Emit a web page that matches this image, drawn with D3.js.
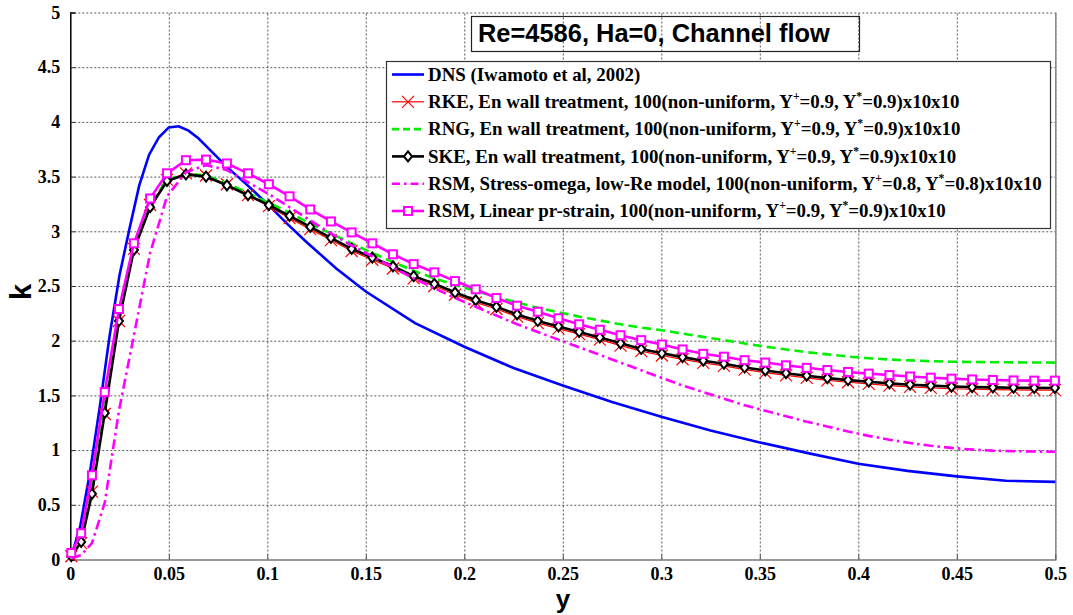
<!DOCTYPE html>
<html><head><meta charset="utf-8">
<script src="https://cdn.jsdelivr.net/npm/d3@7"></script>
<style>body{margin:0;background:#fff}svg{display:block}</style>
</head><body>
<svg id="c" width="1073" height="615"></svg>
<script>
// ---------- data ----------
const xTicks = [0,0.05,0.1,0.15,0.2,0.25,0.3,0.35,0.4,0.45,0.5];
const xTickLabels = ["0","0.05","0.1","0.15","0.2","0.25","0.3","0.35","0.4","0.45","0.5"];
const yTicks = [0,0.5,1,1.5,2,2.5,3,3.5,4,4.5,5];
const yTickLabels = ["0","0.5","1","1.5","2","2.5","3","3.5","4","4.5","5"];

// DNS (Iwamoto et al, 2002)
const dnsY = [0,0.005,0.01,0.015,0.02,0.025,0.03,0.035,0.04,0.045,0.05,0.055,0.06,0.065,0.07,0.08,0.09,0.1,0.11,0.12,0.135,0.15,0.175,0.2,0.225,0.25,0.275,0.3,0.325,0.35,0.375,0.4,0.425,0.45,0.475,0.5];
const dnsK = [0,0.3,0.8,1.4,2.05,2.6,3.02,3.42,3.7,3.86,3.95,3.96,3.92,3.85,3.76,3.58,3.42,3.25,3.07,2.9,2.66,2.45,2.16,1.945,1.75,1.59,1.44,1.305,1.18,1.07,0.97,0.875,0.81,0.76,0.72,0.71];

// simulation mesh (cell centres, non-uniform)
const meshY = [0.0005,0.0055,0.011,0.0175,0.0247,0.0323,0.0405,0.0491,0.0587,0.0689,0.0795,0.0902,0.1008,
  0.1113,0.1218,0.1323,0.1428,0.1533,0.1638,0.1743,0.1848,0.1953,0.2058,0.2163,0.2268,0.2373,0.2478,0.2583,
  0.2688,0.2793,0.2898,0.3003,0.3108,0.3213,0.3318,0.3423,0.3528,0.3633,0.3738,0.3843,0.3948,0.4053,0.4158,
  0.4263,0.4368,0.4473,0.4578,0.4683,0.4788,0.4893,0.4998];

const rkeK = [0.03,0.15,0.62,1.33,2.18,2.84,3.24,3.47,3.53,3.51,3.43,3.33,3.23,
  3.12,3.02,2.92,2.82,2.74,2.66,2.57,2.5,2.42,2.35,2.29,2.22,2.16,2.11,2.06,
  2.01,1.955,1.905,1.865,1.83,1.797,1.77,1.735,1.708,1.683,1.66,1.638,1.62,1.605,1.59,
  1.578,1.569,1.561,1.556,1.553,1.55,1.549,1.548];

const rngK = [0.04,0.18,0.66,1.42,2.22,2.86,3.25,3.47,3.53,3.51,3.44,3.35,3.26,
  3.17,3.07,2.98,2.89,2.8,2.72,2.64,2.57,2.51,2.455,2.4,2.35,2.3,2.26,2.22,
  2.185,2.15,2.12,2.095,2.065,2.035,2.005,1.975,1.945,1.92,1.895,1.875,1.855,1.84,1.828,
  1.82,1.813,1.808,1.805,1.803,1.802,1.801,1.8];

const skeK = [0.03,0.16,0.6,1.34,2.18,2.83,3.22,3.46,3.52,3.5,3.42,3.33,3.24,
  3.14,3.04,2.94,2.84,2.76,2.68,2.59,2.52,2.44,2.37,2.31,2.24,2.18,2.13,2.08,
  2.03,1.976,1.924,1.885,1.85,1.817,1.79,1.755,1.728,1.703,1.68,1.658,1.64,1.625,1.61,
  1.598,1.589,1.581,1.576,1.573,1.57,1.569,1.568];

const rsmOmegaK = [0.01,0.04,0.15,0.52,1.36,2.05,2.8,3.32,3.54,3.605,3.56,3.45,3.34,
  3.22,3.1,2.98,2.87,2.77,2.67,2.57,2.48,2.39,2.31,2.23,2.15,2.08,2.01,1.94,
  1.87,1.8,1.73,1.66,1.59,1.53,1.47,1.41,1.36,1.31,1.26,1.215,1.17,1.13,1.095,
  1.065,1.04,1.02,1.005,0.995,0.99,0.987,0.985];

const rsmLinearK = [0.06,0.24,0.77,1.53,2.29,2.89,3.3,3.53,3.65,3.655,3.62,3.53,3.43,
  3.32,3.2,3.09,2.99,2.89,2.79,2.7,2.625,2.545,2.47,2.39,2.32,2.265,2.205,2.15,
  2.1,2.05,2.005,1.965,1.92,1.88,1.854,1.822,1.8,1.775,1.752,1.732,1.714,1.699,1.686,
  1.673,1.662,1.653,1.646,1.641,1.637,1.635,1.635];

const legendLabels = [
  "DNS (Iwamoto et al, 2002)",
  "RKE, En wall treatment, 100(non-uniform, Y^+=0.9, Y^*=0.9)x10x10",
  "RNG, En wall treatment, 100(non-uniform, Y^+=0.9, Y^*=0.9)x10x10",
  "SKE, En wall treatment, 100(non-uniform, Y^+=0.9, Y^*=0.9)x10x10",
  "RSM, Stress-omega, low-Re model, 100(non-uniform, Y^+=0.8, Y^*=0.8)x10x10",
  "RSM, Linear pr-strain, 100(non-uniform, Y^+=0.9, Y^*=0.9)x10x10"
];
const titleText = "Re=4586, Ha=0, Channel flow";

// ---------- chart ----------
const svg = d3.select("#c");
const L = 70.3, R = 1055.3, T = 12.5, B = 559.5;
const x = d3.scaleLinear().domain([0,0.5]).range([L,R]);
const y = d3.scaleLinear().domain([0,5]).range([B,T]);
const serif = "Liberation Serif, Times New Roman, Tinos, DejaVu Serif, Noto Serif, serif";
const sans = "Liberation Sans, Arial, sans-serif";

// grid
const gridX = svg.append("g").attr("transform",`translate(0,${B})`)
  .call(d3.axisBottom(x).tickValues(xTicks.slice(1)).tickSize(-(B-T)).tickFormat(""));
gridX.select(".domain").remove();
gridX.selectAll("line").attr("stroke","#555").attr("stroke-dasharray","2,2").attr("stroke-width",1);
const gridY = svg.append("g").attr("transform",`translate(${L},0)`)
  .call(d3.axisLeft(y).tickValues(yTicks.slice(1)).tickSize(-(R-L)).tickFormat(""));
gridY.select(".domain").remove();
gridY.selectAll("line").attr("stroke","#555").attr("stroke-dasharray","2,2").attr("stroke-width",1);

// axes frame
svg.append("line").attr("x1",R+0.5).attr("x2",R+0.5).attr("y1",T).attr("y2",B).attr("stroke","#888").attr("stroke-width",1.5);
svg.append("line").attr("x1",L).attr("x2",R+1).attr("y1",B+0.5).attr("y2",B+0.5).attr("stroke","#777").attr("stroke-width",1.5);

const xAxis = svg.append("g").attr("transform",`translate(0,${B})`)
  .call(d3.axisBottom(x).tickValues(xTicks).tickSize(-5).tickPadding(8).tickFormat((d,i)=>xTickLabels[i]));
xAxis.attr("font-family",null);
xAxis.select(".domain").remove();
xAxis.selectAll("line").attr("stroke","#555");
xAxis.selectAll("text").attr("font-family",serif).attr("font-weight","bold").attr("font-size",18).attr("fill","#000");

const yAxis = svg.append("g").attr("transform",`translate(${L},0)`)
  .call(d3.axisLeft(y).tickValues(yTicks).tickSize(-5).tickPadding(10).tickFormat((d,i)=>yTickLabels[i]));
yAxis.attr("font-family",null);
yAxis.select(".domain").attr("stroke","#000").attr("stroke-width",1.5);
yAxis.selectAll("line").attr("stroke","#333");
yAxis.selectAll("text").attr("font-family",serif).attr("font-weight","bold").attr("font-size",18).attr("fill","#000");

// axis labels
svg.append("text").attr("x",563).attr("y",608).attr("text-anchor","middle")
  .attr("font-family",sans).attr("font-weight","bold").attr("font-size",26).text("y");
svg.append("text").attr("transform","translate(31,292) rotate(-90)").attr("text-anchor","middle")
  .attr("font-family",sans).attr("font-weight","bold").attr("font-size",29).text("k");

// series
const line = (xs,ks) => d3.line().x((d,i)=>x(xs[i])).y(d=>y(d))(ks);
const plot = svg.append("g");

plot.append("path").attr("d",line(dnsY,dnsK)).attr("fill","none").attr("stroke","#0000ff").attr("stroke-width",2.6);

plot.append("path").attr("d",line(meshY,rkeK)).attr("fill","none").attr("stroke","#ff0000").attr("stroke-width",1.2);
plot.append("g").selectAll("path").data(rkeK).join("path")
  .attr("d","M-6,-6L6,6M-6,6L6,-6").attr("transform",(d,i)=>`translate(${x(meshY[i])},${y(d)})`)
  .attr("stroke","#ff0000").attr("stroke-width",1.2).attr("fill","none");

plot.append("path").attr("d",line(meshY,rngK)).attr("fill","none").attr("stroke","#00ee00").attr("stroke-width",2.6).attr("stroke-dasharray","9,5");

plot.append("path").attr("d",line(meshY,skeK)).attr("fill","none").attr("stroke","#000").attr("stroke-width",2.6);
plot.append("g").selectAll("path").data(skeK).join("path")
  .attr("d","M0,-5L4,0L0,5L-4,0Z").attr("transform",(d,i)=>`translate(${x(meshY[i])},${y(d)})`)
  .attr("stroke","#000").attr("stroke-width",2).attr("fill","#fff");

plot.append("path").attr("d",line(meshY,rsmOmegaK)).attr("fill","none").attr("stroke","#ff00ff").attr("stroke-width",2.6).attr("stroke-dasharray","10,4,2.5,4");

plot.append("path").attr("d",line(meshY,rsmLinearK)).attr("fill","none").attr("stroke","#ff00ff").attr("stroke-width",2.6);
plot.append("g").selectAll("rect").data(rsmLinearK).join("rect")
  .attr("x",(d,i)=>x(meshY[i])-4).attr("y",d=>y(d)-4).attr("width",8).attr("height",8)
  .attr("stroke","#ff00ff").attr("stroke-width",2).attr("fill","#fff");

// title box
svg.append("rect").attr("x",471.5).attr("y",16.5).attr("width",388).attr("height",35)
  .attr("fill","none").attr("stroke","#222").attr("stroke-width",1.2);
const tt = svg.append("text").attr("x",478).attr("y",42).attr("font-family",sans).attr("font-weight","bold")
  .attr("font-size",25).attr("fill","#000").text(titleText);
{ const w = tt.node().getComputedTextLength(); tt.attr("font-size", 25*352/w); }

// legend
const lg = svg.append("g");
lg.append("rect").attr("x",386.5).attr("y",61.5).attr("width",664).attr("height",167)
  .attr("fill","#fff").attr("stroke","#333").attr("stroke-width",1.2);

function fillLabel(t, label, fs){
  t.selectAll("tspan").remove();
  const parts = label.split(/\^(\S)/);
  let sup = false;
  parts.forEach((p,i)=>{
    if(i%2===1){
      t.append("tspan").attr("dy",-fs*0.42).attr("font-size",fs*0.62).text(p);
      sup = true;
    } else if(p.length){
      const s = t.append("tspan").text(p);
      if(sup){ s.attr("dy",fs*0.42); sup=false; }
    }
  });
}
// fit font size so longest label spans the measured width
const probe = svg.append("text").attr("font-family",serif).attr("font-weight","bold").attr("font-size",17);
fillLabel(probe, legendLabels[4], 17);
const fsL = Math.max(13, Math.min(20, 17*614/probe.node().getComputedTextLength()));
probe.remove();

const rowY0 = 74.5, rowStep = 27.3, sx1 = 392, sx2 = 424, tx = 428;
legendLabels.forEach((lab,i)=>{
  const ry = rowY0 + i*rowStep;
  const t = lg.append("text").attr("x",tx).attr("y",ry+fsL*0.33).attr("font-family",serif)
    .attr("font-weight","bold").attr("font-size",fsL).attr("fill","#000");
  fillLabel(t, lab, fsL);
});
const sm = (i)=>rowY0+i*rowStep;
const mid = (sx1+sx2)/2;
lg.append("line").attr("x1",sx1).attr("x2",sx2).attr("y1",sm(0)).attr("y2",sm(0)).attr("stroke","#0000ff").attr("stroke-width",2.6);
lg.append("line").attr("x1",sx1).attr("x2",sx2).attr("y1",sm(1)).attr("y2",sm(1)).attr("stroke","#ff0000").attr("stroke-width",1.2);
lg.append("path").attr("d","M-6,-6L6,6M-6,6L6,-6").attr("transform",`translate(${mid},${sm(1)})`).attr("stroke","#ff0000").attr("stroke-width",1.2);
lg.append("line").attr("x1",sx1).attr("x2",sx2).attr("y1",sm(2)).attr("y2",sm(2)).attr("stroke","#00ee00").attr("stroke-width",2.6).attr("stroke-dasharray","7,4");
lg.append("line").attr("x1",sx1).attr("x2",sx2).attr("y1",sm(3)).attr("y2",sm(3)).attr("stroke","#000").attr("stroke-width",2.6);
lg.append("path").attr("d","M0,-5L4,0L0,5L-4,0Z").attr("transform",`translate(${mid},${sm(3)})`).attr("stroke","#000").attr("stroke-width",2).attr("fill","#fff");
lg.append("line").attr("x1",sx1).attr("x2",sx2).attr("y1",sm(4)).attr("y2",sm(4)).attr("stroke","#ff00ff").attr("stroke-width",2.6).attr("stroke-dasharray","8,4,2.5,4");
lg.append("line").attr("x1",sx1).attr("x2",sx2).attr("y1",sm(5)).attr("y2",sm(5)).attr("stroke","#ff00ff").attr("stroke-width",2.6);
lg.append("rect").attr("x",mid-4).attr("y",sm(5)-4).attr("width",8).attr("height",8).attr("stroke","#ff00ff").attr("stroke-width",2).attr("fill","#fff");
</script>
</body></html>
